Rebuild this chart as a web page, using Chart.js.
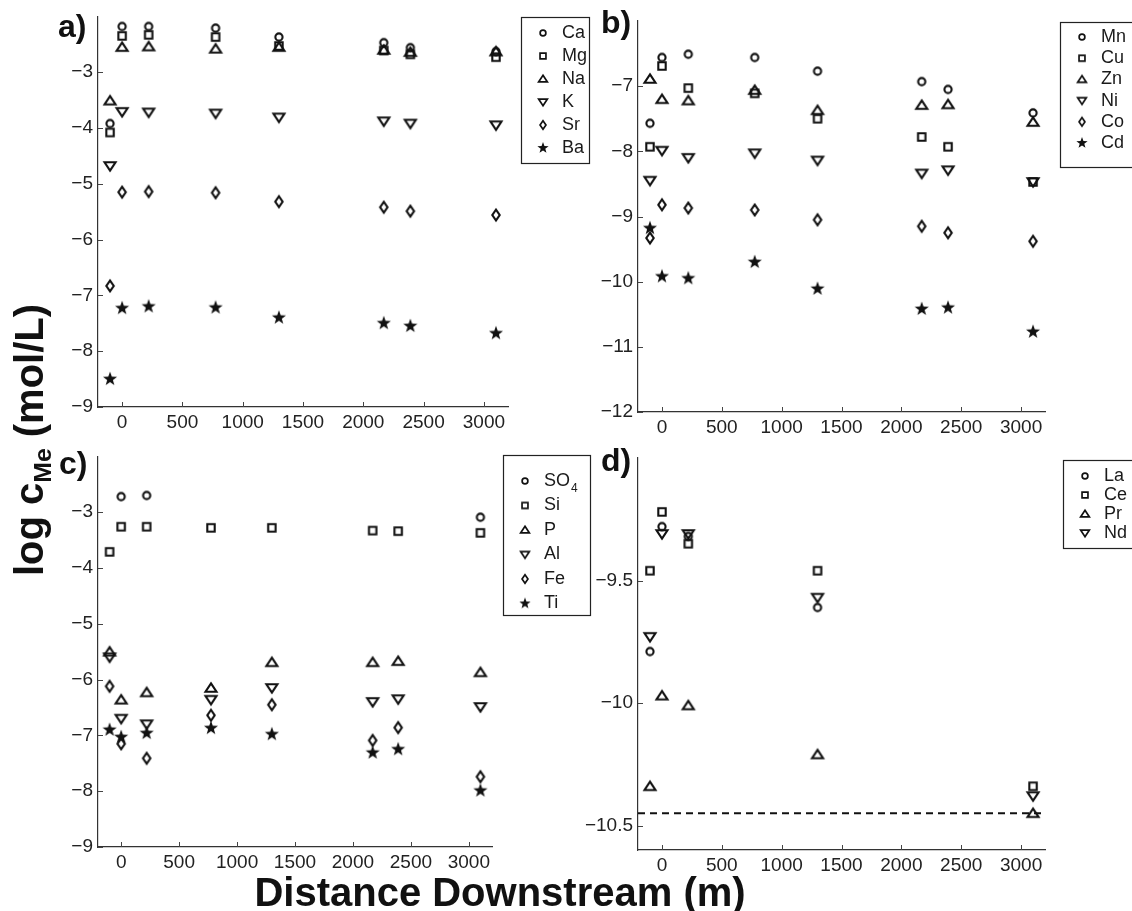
<!DOCTYPE html>
<html>
<head>
<meta charset="utf-8">
<script src="https://cdn.jsdelivr.net/npm/chart.js@4"></script>
<style>
  body { margin:0; background:#fff; width:1132px; height:911px; position:relative; overflow:hidden;
         font-family:"Liberation Sans", Arial, sans-serif; color:#111; }
  canvas { position:absolute; }
  .lbl { position:absolute; font-weight:bold; font-size:32px; line-height:1; }
  #ytitle { position:absolute; left:32px; top:440px; transform:translate(-50%,-50%) rotate(-90deg);
            white-space:nowrap; font-weight:bold; font-size:40px; }
  #ytitle sub { font-size:0.62em; vertical-align:-0.3em; }
  #xtitle { position:absolute; left:500px; top:892px; transform:translate(-50%,-50%);
            white-space:nowrap; font-weight:bold; font-size:40px; }
</style>
</head>
<body>
<canvas id="cA"></canvas>
<canvas id="cB"></canvas>
<canvas id="cC"></canvas>
<canvas id="cD"></canvas>
<div class="lbl" style="left:58px;top:10px">a)</div>
<div class="lbl" style="left:601px;top:6px">b)</div>
<div class="lbl" style="left:59px;top:447px">c)</div>
<div class="lbl" style="left:601px;top:444px">d)</div>
<div id="ytitle">log c<sub>Me</sub> (mol/L)</div>
<div id="xtitle">Distance Downstream (m)</div>
<script>
// sampling sites, distance downstream (m)
const sites = [-100, 0, 220, 775, 1300, 2170, 2390, 3100];
const sitesD = [-100, 0, 220, 1300, 3100];
const xTicks = [0, 500, 1000, 1500, 2000, 2500, 3000];
const xMin = -200, xMax = 3200;

// a) major elements
const ca = [-3.92, -2.18, -2.18, -2.21, -2.37, -2.47, -2.56, -2.63];
const mg = [-4.08, -2.35, -2.33, -2.37, -2.53, -2.61, -2.68, -2.73];
const na = [-3.51, -2.55, -2.54, -2.58, -2.55, -2.60, -2.64, -2.63];
const k  = [-4.68, -3.71, -3.72, -3.74, -3.81, -3.88, -3.92, -3.95];
const sr = [-6.83, -5.15, -5.14, -5.16, -5.32, -5.42, -5.49, -5.56];
const ba = [-8.50, -7.23, -7.20, -7.22, -7.40, -7.50, -7.55, -7.68];
const yTicksA = [-9, -8, -7, -6, -5, -4, -3];

// b) trace metals
const mn = [-7.57, -6.56, -6.51, -6.56, -6.77, -6.93, -7.05, -7.41];
const cu = [-7.93, -6.69, -7.03, -7.11, -7.50, -7.78, -7.93, -8.47];
const zn = [-6.89, -7.20, -7.22, -7.06, -7.37, -7.29, -7.28, -7.55];
const ni = [-8.45, -7.99, -8.10, -8.03, -8.14, -8.34, -8.29, -8.47];
const co = [-9.33, -8.82, -8.87, -8.90, -9.05, -9.15, -9.25, -9.38];
const cd = [-9.18, -9.92, -9.95, -9.70, -10.11, -10.42, -10.40, -10.77];
const yTicksB = [-12, -11, -10, -9, -8, -7];

// c) anions and others
const so4 = [null, -2.72, -2.70, null, null, null, null, -3.09];
const si  = [-3.71, -3.26, -3.26, -3.28, -3.28, -3.33, -3.34, -3.37];
const p   = [-5.50, -6.36, -6.23, -6.15, -5.69, -5.69, -5.67, -5.87];
const al  = [-5.60, -6.70, -6.80, -6.36, -6.15, -6.40, -6.35, -6.49];
const fe  = [-6.12, -7.15, -7.41, -6.64, -6.45, -7.09, -6.86, -7.74];
const ti  = [-6.90, -7.03, -6.96, -6.87, -6.98, -7.31, -7.25, -7.99];
const yTicksC = [-9, -8, -7, -6, -5, -4, -3];

// d) rare earths
const la = [-9.79, -9.28, -9.32, -9.61, null];
const ce = [-9.46, -9.22, -9.35, -9.46, -10.34];
const pr = [-10.34, -9.97, -10.01, -10.21, -10.45];
const nd = [-9.73, -9.31, -9.31, -9.57, -10.38];
const detectionLimitD = -10.45;
const yTicksD = [-10.5, -10, -9.5];

const INK = '#111';
const FONT = "'Liberation Sans', Arial, sans-serif";

function marker(kind, sc) {
  const s = 20, c = document.createElement('canvas');
  c.width = c.height = s;
  const g = c.getContext('2d'), m = s / 2;
  g.strokeStyle = INK; g.fillStyle = INK; g.lineWidth = 2.1;
  g.translate(m, m); g.scale(sc, sc);
  g.beginPath();
  if (kind === 'o') g.arc(0, 0, 3.6, 0, 2 * Math.PI);
  if (kind === 's') g.rect(-3.7, -3.7, 7.4, 7.4);
  if (kind === '^') { g.moveTo(0, -4.7); g.lineTo(5.5, 3.7); g.lineTo(-5.5, 3.7); g.closePath(); }
  if (kind === 'v') { g.moveTo(0, 4.7); g.lineTo(5.5, -3.7); g.lineTo(-5.5, -3.7); g.closePath(); }
  if (kind === 'd') { g.moveTo(0, -5.3); g.lineTo(3.7, 0); g.lineTo(0, 5.3); g.lineTo(-3.7, 0); g.closePath(); }
  if (kind === 'p') {
    for (let i = 0; i < 10; i++) {
      const r = i % 2 ? 3 : 7.4, a = -Math.PI / 2 + i * Math.PI / 5;
      g.lineTo(r * Math.cos(a), r * Math.sin(a));
    }
    g.closePath(); g.fill();
    return c;
  }
  g.stroke();
  return c;
}

const minus = v => String(v).replace('-', '\u2212');

const inwardTicks = {
  id: 'inwardTicks',
  afterDraw(chart) {
    const {ctx, chartArea: a, scales: {x, y}} = chart;
    ctx.save();
    ctx.strokeStyle = '#444'; ctx.lineWidth = 1;
    ctx.beginPath();
    x.ticks.forEach(t => { const px = Math.round(x.getPixelForValue(t.value)) + 0.5; ctx.moveTo(px, a.bottom); ctx.lineTo(px, a.bottom - 5); });
    y.ticks.forEach(t => { const py = Math.round(y.getPixelForValue(t.value)) + 0.5; ctx.moveTo(a.left, py); ctx.lineTo(a.left + 5, py); });
    ctx.stroke();
    ctx.restore();
  }
};

const boxLegend = {
  id: 'boxLegend',
  afterDraw(chart, args, o) {
    if (!o.items) return;
    const ctx = chart.ctx;
    ctx.save();
    ctx.fillStyle = '#fff';
    ctx.fillRect(o.x, o.y, o.w, o.h);
    ctx.strokeStyle = '#222'; ctx.lineWidth = 1.2;
    ctx.strokeRect(o.x + 0.5, o.y + 0.5, o.w, o.h);
    ctx.fillStyle = '#1a1a1a'; ctx.textBaseline = 'middle';
    o.items.forEach((it, i) => {
      const cy = o.first + i * o.row;
      const img = marker(it.m, 0.8);
      ctx.drawImage(img, o.mx - img.width / 2, cy - img.height / 2);
      ctx.font = '18px ' + FONT;
      ctx.fillText(it.label, o.tx, cy);
      if (it.sub) {
        const w = ctx.measureText(it.label).width;
        ctx.font = '12px ' + FONT;
        ctx.fillText(it.sub, o.tx + w + 1, cy + 8);
      }
    });
    ctx.restore();
  }
};

function makePanel(id, cv, plot, yMin, yMax, yTicks, xs, series, legend, extra) {
  const el = document.getElementById(id);
  el.style.left = cv.left + 'px'; el.style.top = cv.top + 'px';
  el.width = cv.w; el.height = cv.h;
  const YW = 60, XH = 40;
  const datasets = series.map(s => ({
    type: 'scatter',
    label: s.label,
    data: xs.map((x, i) => s.v[i] == null ? null : {x: x, y: s.v[i]}).filter(Boolean),
    pointStyle: marker(s.m, 1),
    clip: false
  }));
  if (extra) datasets.push(extra);
  const lg = {
    items: series.map(s => ({label: s.label, sub: s.sub, m: s.m})),
    x: legend.x - cv.left, y: legend.y - cv.top, w: legend.w, h: legend.h,
    first: legend.first - cv.top, row: legend.row,
    mx: legend.x - cv.left + 22, tx: legend.x - cv.left + 41
  };
  return new Chart(el, {
    data: {datasets},
    options: {
      responsive: false,
      animation: false,
      layout: {padding: {
        left: plot.l - cv.left - YW, top: plot.t - cv.top,
        right: cv.left + cv.w - plot.r, bottom: cv.top + cv.h - plot.b - XH
      }},
      plugins: {legend: {display: false}, tooltip: {enabled: false}, boxLegend: lg},
      scales: {
        x: {
          type: 'linear', min: xMin, max: xMax,
          afterBuildTicks: ax => { ax.ticks = xTicks.map(v => ({value: v})); },
          afterFit: ax => { ax.height = XH; },
          grid: {display: false, drawTicks: false},
          border: {display: true, color: '#333', width: 1.2},
          ticks: {color: '#222', font: {size: 19, family: FONT}, padding: 4, maxRotation: 0,
                  callback: v => minus(v)}
        },
        y: {
          type: 'linear', min: yMin, max: yMax,
          afterBuildTicks: ax => { ax.ticks = yTicks.map(v => ({value: v})); },
          afterFit: ax => { ax.width = YW; },
          grid: {display: false, drawTicks: false},
          border: {display: true, color: '#333', width: 1.2},
          ticks: {color: '#222', font: {size: 19, family: FONT}, padding: 5,
                  callback: v => minus(v)}
        }
      }
    },
    plugins: [inwardTicks, boxLegend]
  });
}

makePanel('cA', {left: 0, top: 0, w: 600, h: 455}, {l: 98, r: 508, t: 16, b: 407},
  -9, -2, yTicksA, sites, [
    {label: 'Ca', v: ca, m: 'o'}, {label: 'Mg', v: mg, m: 's'}, {label: 'Na', v: na, m: '^'},
    {label: 'K', v: k, m: 'v'}, {label: 'Sr', v: sr, m: 'd'}, {label: 'Ba', v: ba, m: 'p'}
  ], {x: 521, y: 17, w: 68, h: 146, first: 33, row: 23});

makePanel('cB', {left: 560, top: 0, w: 572, h: 455}, {l: 638, r: 1045, t: 21, b: 412},
  -12, -6, yTicksB, sites, [
    {label: 'Mn', v: mn, m: 'o'}, {label: 'Cu', v: cu, m: 's'}, {label: 'Zn', v: zn, m: '^'},
    {label: 'Ni', v: ni, m: 'v'}, {label: 'Co', v: co, m: 'd'}, {label: 'Cd', v: cd, m: 'p'}
  ], {x: 1060, y: 22, w: 80, h: 145, first: 37, row: 21.2});

makePanel('cC', {left: 0, top: 440, w: 600, h: 471}, {l: 98, r: 492, t: 454, b: 847},
  -9, -2, yTicksC, sites, [
    {label: 'SO', sub: '4', v: so4, m: 'o'}, {label: 'Si', v: si, m: 's'}, {label: 'P', v: p, m: '^'},
    {label: 'Al', v: al, m: 'v'}, {label: 'Fe', v: fe, m: 'd'}, {label: 'Ti', v: ti, m: 'p'}
  ], {x: 503, y: 455, w: 87, h: 160, first: 481, row: 24.5});

makePanel('cD', {left: 560, top: 440, w: 572, h: 471}, {l: 638, r: 1045, t: 458, b: 850},
  -10.6, -9.0, yTicksD, sitesD, [
    {label: 'La', v: la, m: 'o'}, {label: 'Ce', v: ce, m: 's'},
    {label: 'Pr', v: pr, m: '^'}, {label: 'Nd', v: nd, m: 'v'}
  ], {x: 1063, y: 460, w: 80, h: 88, first: 476, row: 19},
  {type: 'line', data: [{x: xMin, y: detectionLimitD}, {x: xMax, y: detectionLimitD}],
   borderColor: INK, borderWidth: 2, borderDash: [7, 5], pointRadius: 0, clip: false});
</script>
</body>
</html>
